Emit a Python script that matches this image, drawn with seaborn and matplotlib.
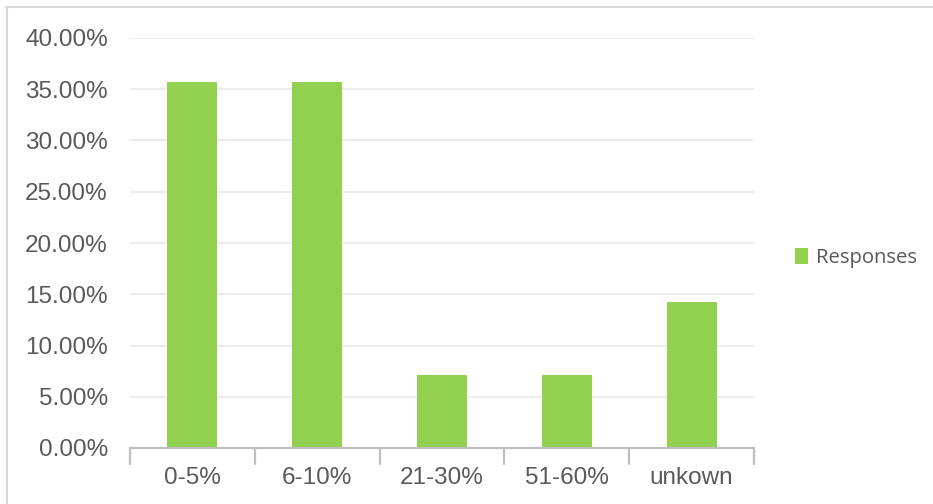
import matplotlib
matplotlib.use("Agg")
import matplotlib.pyplot as plt
from matplotlib.lines import Line2D
from matplotlib.ticker import FuncFormatter, MultipleLocator
import pandas as pd
import seaborn as sns

categories = ["0-5%", "6-10%", "21-30%", "51-60%", "unkown"]
responses = [0.3571, 0.3571, 0.0714, 0.0714, 0.1429]
series_name = "Responses"

sns.set_theme(style="white")
plt.rcParams["font.family"] = ["Liberation Sans", "DejaVu Sans"]

W, H = 933, 504
fig = plt.figure(figsize=(W / 100, H / 100), dpi=100)
ax = fig.add_axes([130 / W, 56 / H, (754 - 130) / W, (448 - 38) / H])

df = pd.DataFrame({"category": categories, "value": responses})
sns.barplot(data=df, x="category", y="value", color="#92D050", width=0.4,
            saturation=1, linewidth=0, ax=ax, label=series_name, zorder=3)

ax.set_xlim(-0.5, len(categories) - 0.5)
ax.set_ylim(0, 0.40)
ax.yaxis.set_major_locator(MultipleLocator(0.05))
ax.yaxis.set_major_formatter(FuncFormatter(lambda v, _: f"{v * 100:.2f}%"))
ax.set_xlabel("")
ax.set_ylabel("")

# horizontal gridlines
ax.yaxis.grid(True, color="#ebebeb", linewidth=1.3, zorder=0)
ax.xaxis.grid(False)
ax.set_axisbelow(True)

for side in ("top", "right", "left"):
    ax.spines[side].set_visible(False)
ax.spines["bottom"].set_color("#bfbfbf")
ax.spines["bottom"].set_linewidth(1.6)
ax.spines["bottom"].set_zorder(4)

ax.set_xticks([i for i in range(len(categories))])
ax.set_xticklabels(categories)
ax.tick_params(axis="x", length=0, pad=14, labelsize=17.5, labelcolor="#595959")
ax.tick_params(axis="y", length=0, pad=16, labelsize=17.5, labelcolor="#595959")

# category separators as short marks below the axis
for i in range(len(categories) + 1):
    ax.add_line(Line2D([i - 0.5, i - 0.5], [0, -0.016], color="#bfbfbf",
                       linewidth=1.6, clip_on=False,
                       transform=ax.transData, zorder=4))

leg = ax.legend(loc="center left", bbox_to_anchor=(795 / W, (H - 258) / H),
                bbox_transform=fig.transFigure, frameon=False,
                handlelength=0.66, handleheight=0.8, handletextpad=0.36,
                borderpad=0, borderaxespad=0,
                prop={"family": ["Open Sans", "DejaVu Sans"], "size": 14.6})
for t in leg.get_texts():
    t.set_color("#595959")

# thin frame on the top and left edges
fig.add_artist(Line2D([6 / W, 1], [(H - 7) / H, (H - 7) / H], color="#d9d9d9",
                      linewidth=1.5, transform=fig.transFigure))
fig.add_artist(Line2D([7 / W, 7 / W], [0, (H - 7) / H], color="#d9d9d9",
                      linewidth=1.5, transform=fig.transFigure))

fig.savefig("out.png", dpi=100, facecolor="white")
